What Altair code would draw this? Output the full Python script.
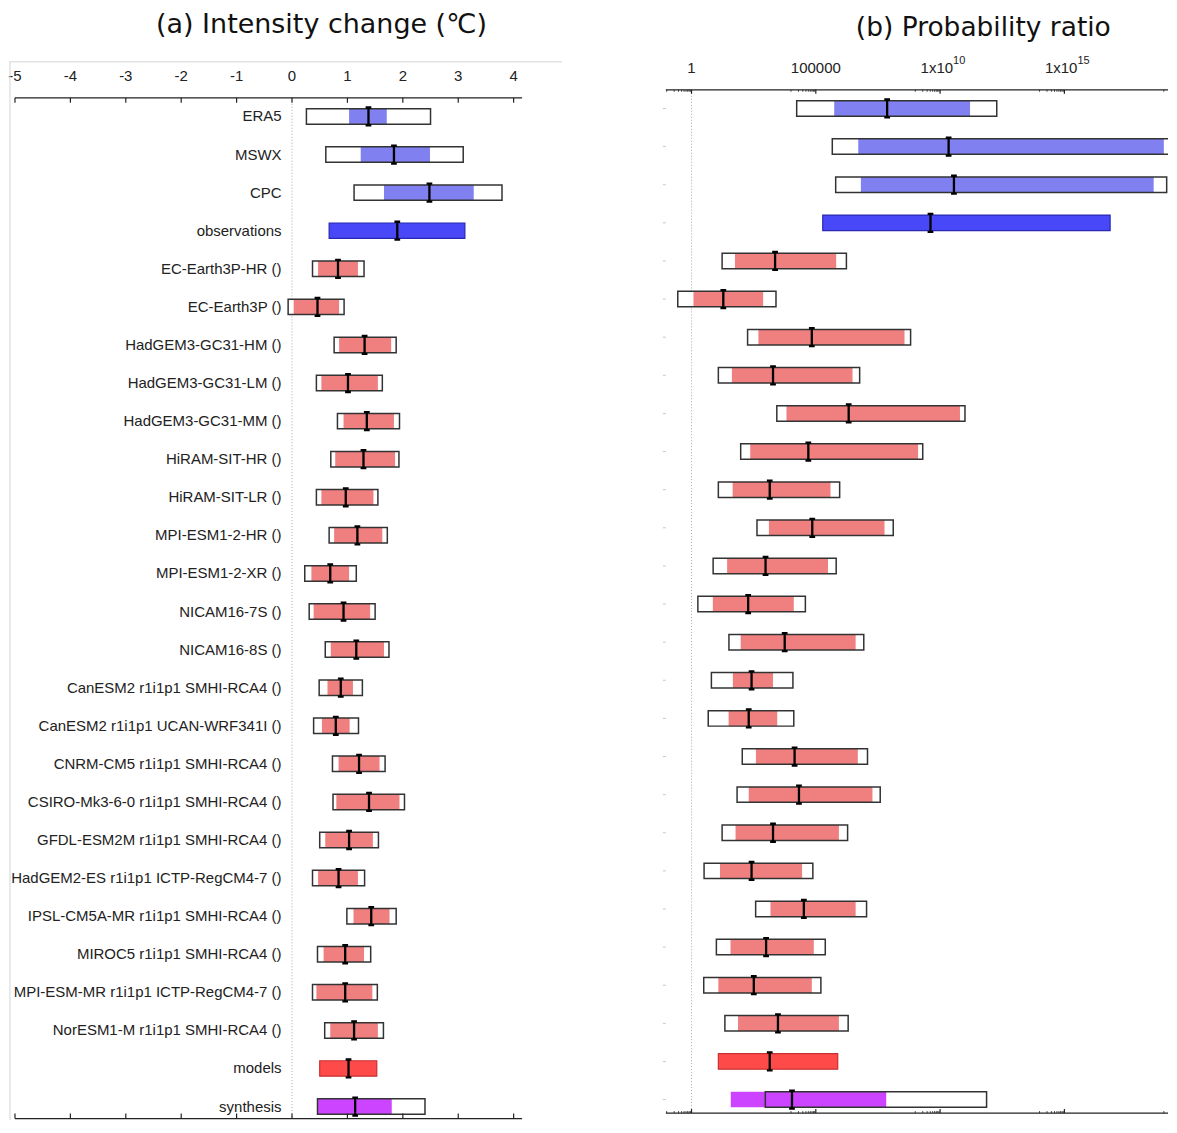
import altair as alt
import pandas as pd

N = None
rows = ["ERA5", "MSWX", "CPC", "observations",
        "EC-Earth3P-HR ()", "EC-Earth3P ()", "HadGEM3-GC31-HM ()", "HadGEM3-GC31-LM ()",
        "HadGEM3-GC31-MM ()", "HiRAM-SIT-HR ()", "HiRAM-SIT-LR ()", "MPI-ESM1-2-HR ()",
        "MPI-ESM1-2-XR ()", "NICAM16-7S ()", "NICAM16-8S ()",
        "CanESM2 r1i1p1 SMHI-RCA4 ()", "CanESM2 r1i1p1 UCAN-WRF341I ()",
        "CNRM-CM5 r1i1p1 SMHI-RCA4 ()", "CSIRO-Mk3-6-0 r1i1p1 SMHI-RCA4 ()",
        "GFDL-ESM2M r1i1p1 SMHI-RCA4 ()", "HadGEM2-ES r1i1p1 ICTP-RegCM4-7 ()",
        "IPSL-CM5A-MR r1i1p1 SMHI-RCA4 ()", "MIROC5 r1i1p1 SMHI-RCA4 ()",
        "MPI-ESM-MR r1i1p1 ICTP-RegCM4-7 ()", "NorESM1-M r1i1p1 SMHI-RCA4 ()",
        "models", "synthesis"]
kinds = ["dataset"] * 3 + ["obs"] + ["model"] * 21 + ["models", "synthesis"]

# (a) intensity change (degC)
int_best = [1.38, 1.84, 2.48, 1.90, 0.83, 0.46, 1.31, 1.01, 1.35, 1.29, 0.97, 1.18, 0.69, 0.93,
            1.16, 0.88, 0.79, 1.21, 1.39, 1.03, 0.84, 1.43, 0.96, 0.96, 1.12, 1.02, 1.14]
int_in_lo = [1.03, 1.24, 1.66, 0.67, 0.47, 0.03, 0.85, 0.53, 0.93, 0.78, 0.53, 0.76, 0.35, 0.39,
             0.70, 0.64, 0.54, 0.84, 0.80, 0.60, 0.47, 1.11, 0.57, 0.44, 0.69, 0.50, 0.47]
int_in_hi = [1.71, 2.49, 3.28, 3.12, 1.19, 0.85, 1.79, 1.55, 1.84, 1.86, 1.47, 1.63, 1.03, 1.41,
             1.66, 1.10, 1.04, 1.58, 1.94, 1.46, 1.19, 1.76, 1.30, 1.45, 1.55, 1.53, 1.80]
int_out_lo = [0.26, 0.61, 1.12, N, 0.37, -0.07, 0.76, 0.44, 0.82, 0.70, 0.44, 0.67, 0.23, 0.31,
              0.60, 0.49, 0.39, 0.73, 0.74, 0.50, 0.37, 0.99, 0.46, 0.37, 0.59, N, 0.46]
int_out_hi = [2.50, 3.09, 3.79, N, 1.30, 0.94, 1.88, 1.63, 1.94, 1.93, 1.55, 1.72, 1.16, 1.50,
              1.75, 1.27, 1.20, 1.68, 2.03, 1.56, 1.31, 1.88, 1.42, 1.54, 1.65, N, 2.40]

# (b) probability ratio
pr_best = [7.4e7, 2.2e10, 3.6e10, 4.1e9, 2.3e3, 1.9e1, 6.9e4, 1.9e3, 2.1e6, 5.0e4, 1.4e3, 7.2e4,
           9.5e2, 1.9e2, 5.6e3, 2.6e2, 2.0e2, 1.4e4, 2.1e4, 1.9e3, 2.6e2, 3.3e4, 1.0e3, 3.2e2,
           3.0e3, 1.4e3, 1.1e4]
pr_in_lo = [5.5e5, 5.1e6, 6.5e6, 1.9e5, 5.6e1, 1.2, 4.9e2, 4.2e1, 6.6e3, 2.3e2, 4.5e1, 1.3e3,
            2.7e1, 7.2, 9.5e1, 4.6e1, 3.1e1, 3.9e2, 2.0e2, 5.9e1, 1.4e1, 1.5e3, 3.7e1, 1.2e1,
            7.4e1, 1.2e1, 3.8e1]
pr_in_hi = [1.6e11, 1.0e19, 3.9e18, 6.9e16, 6.6e5, 7.6e2, 3.7e8, 3.0e6, 6.3e10, 1.3e9, 3.9e5,
            5.8e7, 3.1e5, 1.3e4, 4.0e6, 1.9e3, 2.8e3, 4.9e6, 1.9e7, 8.5e5, 2.8e4, 4.0e6, 8.3e4,
            6.9e4, 8.5e5, 7.6e5, 6.8e7]
pr_out_lo = [1.7e4, 4.6e5, 6.3e5, N, 1.7e1, 0.28, 1.8e2, 1.2e1, 2.7e3, 9.5e1, 1.2e1, 4.3e2, 7.4,
             1.8, 3.2e1, 6.3, 4.7, 1.1e2, 6.8e1, 1.7e1, 3.2, 3.8e2, 1.0e1, 3.1, 2.2e1, N, 9.3e2]
pr_out_hi = [1.9e12, 2.6e19, 1.3e19, N, 1.7e6, 2.5e3, 6.5e8, 5.8e6, 1.0e11, 2.0e9, 9.1e5, 1.3e8,
             6.6e5, 3.8e4, 8.5e6, 1.2e4, 1.3e4, 1.2e7, 3.9e7, 1.9e6, 7.6e4, 1.1e7, 2.4e5, 1.6e5,
             2.0e6, N, 7.4e11]

int_ticks = [-5, -4, -3, -2, -1, 0, 1, 2, 3, 4]
int_tick_labels = ["-5", "-4", "-3", "-2", "-1", "0", "1", "2", "3", "4"]
pr_ticks = [1, 1e5, 1e10, 1e15, 1e20]
pr_tick_base = ["1", "100000", "1x10", "1x10", ""]
pr_tick_sup = ["", "", "10", "15", ""]

title_a = "(a) Intensity change (\u2103)"
title_b = "(b) Probability ratio"

fill_map = {"dataset": "#8080F0", "obs": "#4848F8", "model": "#F08080",
            "models": "#FF4A4A", "synthesis": "#CC44FF"}
edge_map = {"dataset": "#8080F0", "obs": "#2828B0", "model": "#F08080",
            "models": "#C83030", "synthesis": "#CC44FF"}
edge_w = {"dataset": 0, "obs": 1.2, "model": 0, "models": 1.2, "synthesis": 0}

df = pd.DataFrame({
    "row": rows, "kind": kinds,
    "i_best": int_best, "i_in_lo": int_in_lo, "i_in_hi": int_in_hi,
    "i_out_lo": int_out_lo, "i_out_hi": int_out_hi,
    "p_best": pr_best, "p_in_lo": pr_in_lo, "p_in_hi": pr_in_hi,
    "p_out_lo": pr_out_lo, "p_out_hi": pr_out_hi,
})
df["fill"] = df["kind"].map(fill_map)
df["edge"] = df["kind"].map(edge_map)
df["ew"] = df["kind"].map(edge_w)

WL, WR, H = 514, 503, 1113
BAR_H = 15.5
BEAM = "M -0.32 -1 H 0.32 M 0 -1 V 1 M -0.32 1 H 0.32"
FONT = "Liberation Sans"
TFONT = "DejaVu Sans"
one = pd.DataFrame({"k": [0]})


def panel(prefix, xscale, yrange, dom, ref_value, ticks_df, minor_df, axis_y, bottom_y,
          maj_len, title, title_size, title_x, title_y, show_labels, clip):
    ysc = alt.Scale(type="point", range=yrange, padding=0)
    Y = alt.Y("row:N", sort=rows, scale=ysc, axis=None)

    def X(f):
        return alt.X(f, scale=xscale, axis=None)

    base = alt.Chart(df)
    has_box = base.transform_filter(f"isValid(datum.{prefix}_out_lo)")
    layers = []
    ref = pd.DataFrame({"v": [ref_value]})
    layers.append(alt.Chart(ref).mark_rule(color="#aaaaaa", strokeDash=[1, 2],
                                           strokeWidth=1).encode(
        x=X("v:Q"), y=alt.value(axis_y), y2=alt.value(bottom_y)))
    # white box under fill
    layers.append(has_box.mark_bar(height=BAR_H, color="white", clip=clip).encode(
        x=X(f"{prefix}_out_lo:Q"), x2=f"{prefix}_out_hi:Q", y=Y))
    # coloured range
    layers.append(base.mark_bar(height=BAR_H, clip=clip).encode(
        x=X(f"{prefix}_in_lo:Q"), x2=f"{prefix}_in_hi:Q", y=Y,
        fill=alt.Fill("fill:N", scale=None), stroke=alt.Stroke("edge:N", scale=None),
        strokeWidth=alt.StrokeWidth("ew:Q", scale=None)))
    # box outline
    layers.append(has_box.mark_bar(height=BAR_H, fillOpacity=0, stroke="#333333",
                                   strokeWidth=1.5, clip=clip).encode(
        x=X(f"{prefix}_out_lo:Q"), x2=f"{prefix}_out_hi:Q", y=Y))
    # best estimate
    layers.append(base.mark_point(shape=BEAM, filled=False, size=324, strokeWidth=2.3,
                                  color="black", opacity=1).encode(x=X(f"{prefix}_best:Q"), y=Y))

    # axis lines (top and bottom)
    axl = pd.DataFrame({"a": [dom[0]], "b": [dom[1]]})
    for yy in (axis_y, bottom_y):
        layers.append(alt.Chart(axl).mark_rule(color="#222222", strokeWidth=1.2).encode(
            x=X("a:Q"), x2="b:Q", y=alt.value(yy)))
    # major ticks (inward)
    layers.append(alt.Chart(ticks_df).mark_rule(color="#222222", strokeWidth=1.2).encode(
        x=X("v:Q"), y=alt.value(axis_y), y2=alt.value(axis_y + maj_len)))
    layers.append(alt.Chart(ticks_df).mark_rule(color="#222222", strokeWidth=1.2).encode(
        x=X("v:Q"), y=alt.value(bottom_y - maj_len), y2=alt.value(bottom_y)))
    if minor_df is not None:
        layers.append(alt.Chart(minor_df).mark_rule(color="#222222", strokeWidth=0.8).encode(
            x=X("v:Q"), y=alt.value(axis_y), y2=alt.value(axis_y + 2)))
        layers.append(alt.Chart(minor_df).mark_rule(color="#222222", strokeWidth=0.8).encode(
            x=X("v:Q"), y=alt.value(bottom_y - 2), y2=alt.value(bottom_y)))

    # title
    layers.append(alt.Chart(pd.DataFrame({"t": [title]})).mark_text(
        font=TFONT, fontSize=title_size, color="#111111", align="center",
        baseline="middle").encode(
        text="t:N", x=alt.value(title_x), y=alt.value(title_y)))

    if show_labels:
        layers.append(base.mark_text(font=FONT, fontSize=15, color="#222222", align="right",
                                     baseline="middle").encode(
            y=Y, x=alt.value(273), text="row:N"))
    return layers, X, Y


# ---------- left panel ----------
xL_dom = [-5.108, 4.153]
xL = alt.Scale(domain=xL_dom, nice=False, zero=False)
tL = pd.DataFrame({"v": int_ticks, "lab": int_tick_labels})
left_layers, XL, YL = panel("i", xL, [107.7, 1099.5], [int_ticks[0], xL_dom[1]], 0, tL, None,
                            89, 1111.5, 5, title_a, 27, 313, 16, True, False)
left_layers.append(alt.Chart(tL).mark_text(font=FONT, fontSize=15, color="#222222",
                                           baseline="middle").encode(
    x=XL("v:Q"), y=alt.value(67), text="lab:N"))
# frame lines of the composite figure
left_layers.append(alt.Chart(one).mark_rule(color="#d4d4d4", strokeWidth=1).encode(
    x=alt.value(1), y=alt.value(53), y2=alt.value(H)))
left_layers.append(alt.Chart(one).mark_rule(color="#d4d4d4", strokeWidth=1).encode(
    x=alt.value(0), x2=alt.value(554), y=alt.value(53)))
left = alt.layer(*left_layers).properties(width=WL, height=H)

# ---------- right panel ----------
xR_dom = [0.0929, 1.47e19]
xR = alt.Scale(type="log", domain=xR_dom, nice=False)
tR = pd.DataFrame({"v": pr_ticks, "base": pr_tick_base, "sup": pr_tick_sup})
tR = tR[tR["v"] <= xR_dom[1]]
minor = [k * m / 10 for m in pr_ticks for k in range(1, 10)]
minor = [v for v in minor if xR_dom[0] <= v <= xR_dom[1]]
mR = pd.DataFrame({"v": minor})
right_layers, XR, YR = panel("p", xR, [99.7, 1092.5], xR_dom, 1, tR, mR,
                             81, 1106, 4, title_b, 26.5, 318, 19, False, True)
lab_plain = alt.Chart(tR).transform_filter("datum.sup == ''")
right_layers.append(lab_plain.mark_text(font=FONT, fontSize=15, color="#222222",
                                        baseline="middle").encode(
    x=XR("v:Q"), y=alt.value(58.7), text="base:N"))
lab_pow = alt.Chart(tR).transform_filter("datum.sup != ''")
right_layers.append(lab_pow.mark_text(font=FONT, fontSize=15, color="#222222", align="right",
                                      baseline="middle", dx=13).encode(
    x=XR("v:Q"), y=alt.value(58.7), text="base:N"))
right_layers.append(lab_pow.mark_text(font=FONT, fontSize=11, color="#222222", align="left",
                                      baseline="middle", dx=13).encode(
    x=XR("v:Q"), y=alt.value(52.5), text="sup:N"))
# small row ticks on the left edge
right_layers.append(alt.Chart(df).mark_rule(color="#c8c8c8", strokeWidth=1).encode(
    y=YR, x=alt.value(-3), x2=alt.value(0)))
right = alt.layer(*right_layers).properties(width=WR, height=H)

chart = alt.hconcat(left, right, spacing=144, bounds="flush").properties(
    padding=0).configure_view(stroke=None)
chart.save("out.html", embed_options={"renderer": "svg", "actions": False})
